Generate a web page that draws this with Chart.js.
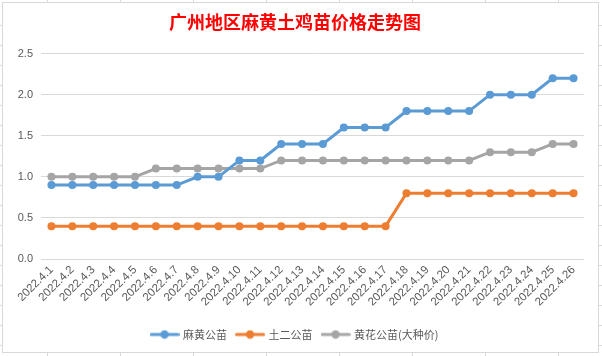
<!DOCTYPE html>
<html>
<head>
<meta charset="utf-8">
<script src="https://cdn.jsdelivr.net/npm/chart.js@4.4.1/dist/chart.umd.min.js"></script>
<style>
html,body{margin:0;padding:0;background:#fff;}
#wrap{position:absolute;left:0;top:0;width:602px;height:356px;}
</style>
</head>
<body>
<div id="wrap"><canvas id="c" width="602" height="356"></canvas></div>
<script>
const categories = ["2022.4.1","2022.4.2","2022.4.3","2022.4.4","2022.4.5","2022.4.6","2022.4.7","2022.4.8","2022.4.9","2022.4.10","2022.4.11","2022.4.12","2022.4.13","2022.4.14","2022.4.15","2022.4.16","2022.4.17","2022.4.18","2022.4.19","2022.4.20","2022.4.21","2022.4.22","2022.4.23","2022.4.24","2022.4.25","2022.4.26"];
const mahuangGongmiao = [0.9,0.9,0.9,0.9,0.9,0.9,0.9,1.0,1.0,1.2,1.2,1.4,1.4,1.4,1.6,1.6,1.6,1.8,1.8,1.8,1.8,2.0,2.0,2.0,2.2,2.2];
const tuErGongmiao = [0.4,0.4,0.4,0.4,0.4,0.4,0.4,0.4,0.4,0.4,0.4,0.4,0.4,0.4,0.4,0.4,0.4,0.8,0.8,0.8,0.8,0.8,0.8,0.8,0.8,0.8];
const huanghuaGongmiao = [1.0,1.0,1.0,1.0,1.0,1.1,1.1,1.1,1.1,1.1,1.1,1.2,1.2,1.2,1.2,1.2,1.2,1.2,1.2,1.2,1.2,1.3,1.3,1.3,1.4,1.4];
const seriesNames = ["麻黄公苗","土二公苗","黄花公苗(大种价)"];
const yTicks = [0,0.5,1.0,1.5,2.0,2.5];
const colors = ["#5B9BD5","#ED7D31","#A5A5A5"];

function legendMarker(color){
  const cv = document.createElement('canvas');
  cv.width = 30; cv.height = 10;
  const g = cv.getContext('2d');
  g.strokeStyle = color; g.lineWidth = 3; g.lineCap='round';
  g.beginPath(); g.moveTo(1.5,5); g.lineTo(28.5,5); g.stroke();
  g.fillStyle = color; g.beginPath(); g.arc(15,5,4.2,0,Math.PI*2); g.fill();
  return cv;
}

const framePlugin = {
  id:'frame',
  beforeDraw(chart){
    const ctx = chart.ctx;
    ctx.save();
    ctx.fillStyle = '#fff';
    ctx.fillRect(0,0,602,356);
    ctx.strokeStyle = '#d9d9d9';
    ctx.lineWidth = 1;
    ctx.beginPath();
    [25,45,65,85,105,125,145,165,185,205,225,245,265,285,305,325,345].forEach(y=>{ctx.moveTo(0,y+0.5);ctx.lineTo(2,y+0.5);ctx.moveTo(598,y+0.5);ctx.lineTo(602,y+0.5);});
    [47,120,193,266,339,412,485,558].forEach(x=>{ctx.moveTo(x+0.5,0);ctx.lineTo(x+0.5,2);ctx.moveTo(x+0.5,352);ctx.lineTo(x+0.5,356);});
    ctx.stroke();
    ctx.strokeRect(2.5,2.5,596,350);
    ctx.restore();
  }
};

const datasets = [mahuangGongmiao, tuErGongmiao, huanghuaGongmiao].map((d,i)=>({
  label: seriesNames[i],
  data: d,
  borderColor: colors[i],
  backgroundColor: colors[i],
  borderWidth: 3,
  pointRadius: 4,
  pointHoverRadius: 4,
  pointBorderWidth: 0,
  pointStyle: 'circle',
  tension: 0,
  fill: false
}));
datasets[0].order = 0; datasets[1].order = 1; datasets[2].order = 2;

new Chart(document.getElementById('c'), {
  type: 'line',
  data: { labels: categories, datasets },
  plugins: [framePlugin],
  options: {
    responsive: false,
    animation: false,
    devicePixelRatio: 1,
    layout: { padding: { left: 6, right: 18, top: 3, bottom: 6 } },
    plugins: {
      tooltip: { enabled: false },
      title: {
        display: true,
        text: '广州地区麻黄土鸡苗价格走势图',
        color: '#FF0000',
        font: { family: '"Noto Sans CJK SC", sans-serif', size: 18, weight: 'bold' },
        padding: { top: 8, bottom: 21 }
      },
      legend: {
        position: 'bottom',
        labels: {
          color: '#595959',
          font: { family: '"Noto Sans CJK SC", sans-serif', size: 11 },
          usePointStyle: true,
          pointStyleWidth: 26,
          padding: 10,
          generateLabels(chart){
            return chart.data.datasets.map((ds,i)=>({
              text: ds.label,
              fillStyle: ds.borderColor,
              strokeStyle: ds.borderColor,
              fontColor: '#595959',
              lineWidth: 0,
              pointStyle: legendMarker(ds.borderColor),
              hidden: false,
              datasetIndex: i
            }));
          }
        }
      }
    },
    scales: {
      x: {
        offset: true,
        grid: { display: false, drawTicks: false },
        border: { display: false },
        ticks: {
          color: '#595959',
          font: { family: '"Liberation Sans", sans-serif', size: 11.5 },
          maxRotation: 45, minRotation: 45,
          autoSkip: false,
          padding: 4
        },
        afterFit(s){ s.height = 60; }
      },
      y: {
        min: 0, max: 2.5,
        afterBuildTicks(s){ s.ticks = yTicks.map(v=>({value:v})); },
        grid: { color: '#D9D9D9', lineWidth: 1, drawTicks: false },
        border: { display: false },
        ticks: {
          color: '#595959',
          font: { family: '"Liberation Sans", sans-serif', size: 11 },
          padding: 8,
          callback: v => Number(v).toFixed(1)
        },
        afterFit(s){ s.width = 35; }
      }
    }
  }
});
</script>
</body>
</html>
